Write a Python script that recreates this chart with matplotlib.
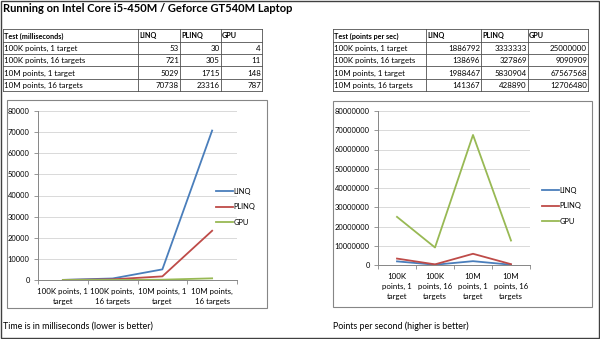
import matplotlib
matplotlib.use('Agg')
import matplotlib.pyplot as plt

# ============================================================
# DATA
# ============================================================
TESTS = ['100K points, 1 target', '100K points, 16 targets',
         '10M points, 1 target', '10M points, 16 targets']
SERIES = ['LINQ', 'PLINQ', 'GPU']

MS_LINQ = [53, 721, 5029, 70738]
MS_PLINQ = [30, 305, 1715, 23316]
MS_GPU = [4, 11, 148, 787]

PPS_LINQ = [1886792, 138696, 1988467, 141367]
PPS_PLINQ = [3333333, 327869, 5830904, 428890]
PPS_GPU = [25000000, 9090909, 67567568, 12706480]

MS_LABELS = ['100K points, 1\ntarget', '100K points,\n16 targets',
             '10M points, 1\ntarget', '10M points,\n16 targets']
PPS_LABELS = ['100K\npoints, 1\ntarget', '100K\npoints, 16\ntargets',
              '10M\npoints, 1\ntarget', '10M\npoints, 16\ntargets']

TITLE = 'Running on Intel Core i5-450M / Geforce GT540M Laptop'
CAP_MS = 'Time is in milliseconds (lower is better)'
CAP_PPS = 'Points per second (higher is better)'

# ============================================================
# STYLE
# ============================================================
plt.rcParams['font.family'] = ['Lato', 'DejaVu Sans']
COLORS = ['#4A7EBB', '#BE4B48', '#98B954']
GRID = '#D9D9D9'
AXC = '#868686'
W, H = 600, 339
FS_TAB = 5.7      # table cells
FS_HEAD = 5.2     # table header (bold)
FS_TICK = 5.4     # y ticks / legend
FS_CAT = 5.7      # category labels
FS_CAP = 6.4      # captions

fig = plt.figure(figsize=(W / 100, H / 100), dpi=100)
base = fig.add_axes([0, 0, 1, 1])
base.set_xlim(0, W)
base.set_ylim(H, 0)
base.axis('off')


def px_axes(x0, y0, x1, y1):
    return fig.add_axes([x0 / W, (H - y1) / H, (x1 - x0) / W, (y1 - y0) / H])


def draw_table(cols, rows, header, data):
    for x in cols:
        base.plot([x, x], [rows[0], rows[-1]], color='#505050', lw=0.6)
    for y in rows:
        base.plot([cols[0], cols[-1]], [y, y], color='#505050', lw=0.6)
    for j, h in enumerate(header):
        base.text(cols[j] + 1, (rows[0] + rows[1]) / 2 + 0.5, h, fontsize=FS_HEAD,
                  fontweight='bold', va='center', ha='left')
    for i, test in enumerate(TESTS):
        yc = (rows[i + 1] + rows[i + 2]) / 2 + 0.5
        base.text(cols[0] + 1, yc, test, fontsize=FS_TAB, va='center', ha='left')
        for j, series in enumerate(data):
            base.text(cols[j + 2] - 1, yc, str(series[i]), fontsize=FS_TAB,
                      va='center', ha='right')


def draw_chart(box, area, values, labels, ymax, step, leg_xy):
    bx0, by0, bx1, by1 = box
    base.add_patch(plt.Rectangle((bx0, by0), bx1 - bx0, by1 - by0, fill=False,
                                 ec=AXC, lw=0.8))
    ax = px_axes(*area)
    xs = range(len(labels))
    for vals, name, c in zip(values, SERIES, COLORS):
        ax.plot(xs, vals, color=c, lw=1.3, label=name)
    ax.set_xlim(-0.5, len(labels) - 0.5)
    ax.set_ylim(0, ymax)
    ax.set_yticks(range(0, ymax + 1, step))
    ax.set_yticklabels([str(v) for v in range(0, ymax + 1, step)], fontsize=FS_TICK)
    ax.set_xticks([i - 0.5 for i in range(len(labels) + 1)])
    ax.set_xticklabels([])
    ax.set_xticks(list(xs), labels, minor=True, fontsize=FS_CAT, linespacing=1.45)
    ax.tick_params(axis='x', which='minor', length=0, pad=6)
    ax.tick_params(axis='x', which='major', length=3, color=AXC, width=0.6)
    ax.tick_params(axis='y', length=3, color=AXC, width=0.6, pad=3)
    ax.yaxis.grid(True, color=GRID, lw=0.7)
    ax.set_axisbelow(True)
    for s in ['top', 'right']:
        ax.spines[s].set_visible(False)
    for s in ['left', 'bottom']:
        ax.spines[s].set_color(AXC)
        ax.spines[s].set_linewidth(0.7)
    lx, ly = leg_xy
    ax.legend(loc='upper left', bbox_to_anchor=(lx / W, 1 - ly / H),
              bbox_transform=fig.transFigure, frameon=False, fontsize=FS_TICK,
              handlelength=2.2, handletextpad=0.15, labelspacing=1.1,
              borderpad=0, borderaxespad=0)
    return ax


# ============================================================
# FIGURE
# ============================================================
base.add_patch(plt.Rectangle((0.5, 0.5), W - 2, H - 1.5, fill=False,
                             ec='#404040', lw=1.0))
base.text(3, 9, TITLE, fontsize=8.0, fontweight='bold', va='center', ha='left')

draw_table([3, 138, 180, 221, 262], [29.3, 41.6, 54, 66.3, 78.7, 91],
           ['Test (milliseconds)', 'LINQ', 'PLINQ', 'GPU'],
           [MS_LINQ, MS_PLINQ, MS_GPU])
draw_table([333, 426, 481, 528, 588], [29.3, 41.6, 54, 66.3, 78.7, 91],
           ['Test (points per sec)', 'LINQ', 'PLINQ', 'GPU'],
           [PPS_LINQ, PPS_PLINQ, PPS_GPU])

draw_chart((7, 100, 267, 308), (38, 111, 237, 280),
           [MS_LINQ, MS_PLINQ, MS_GPU], MS_LABELS, 80000, 10000, (216, 188))
draw_chart((333, 101, 592, 307), (378, 111, 530, 265),
           [PPS_LINQ, PPS_PLINQ, PPS_GPU], PPS_LABELS, 80000000, 10000000,
           (542, 187))

base.text(3, 326, CAP_MS, fontsize=FS_CAP, va='center', ha='left')
base.text(333, 326, CAP_PPS, fontsize=FS_CAP, va='center', ha='left')

fig.savefig('out.png', dpi=100)
